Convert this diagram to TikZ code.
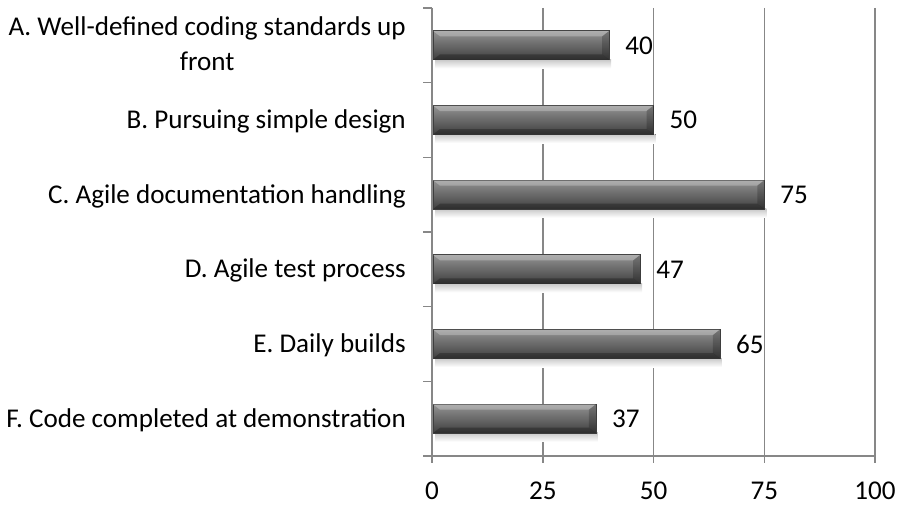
\documentclass[tikz,border=0pt]{standalone}
\usepackage{fontspec}
\setmainfont{Carlito}
\usepackage{xcolor}
\usetikzlibrary{positioning}
\definecolor{Gitterfarbe}{HTML}{878787}
\definecolor{Balkenhell}{HTML}{939393}
\definecolor{Balkenmitte}{HTML}{626262}
\definecolor{Balkendunkel}{HTML}{3E3E3E}
\tikzset{
  Gitter/.style={draw=Gitterfarbe, line width=1.5pt}, % Gitterlinien und Achsen
  Balken/.style={top color=Balkenhell, middle color=Balkenmitte, bottom color=Balkendunkel, draw=Balkendunkel, line width=.8pt},
  Schatten/.style={top color=black!22, bottom color=white, draw=none},
  Wert/.style={anchor=west, inner sep=0pt}, % Zahlen an den Balken
  Kat/.style={anchor=east, inner sep=0pt, align=center}, % Kategorien links
  Skala/.style={anchor=base, inner sep=0pt} % Zahlen unter der Achse
}

\begin{document}
\begin{tikzpicture}[x=1pt, y=-1pt,
font=\fontsize{27.1}{35}\selectfont
]
\useasboundingbox (0,0) rectangle (898,508);

%Achsen
\coordinate (O) at (432,456);
\coordinate (T) at (432,8);
\coordinate (R) at (875,456);

%Gitterlinien
\foreach \k in {1,...,4}
  \draw[Gitter] ([xshift=\k*110.75pt]T) -- ([xshift=\k*110.75pt]O);

%Balken
\foreach \i/\v/\d/\txt in {0/40/2/{A. Well-defined coding standards up\\front},
                       1/50/-1.5/{B. Pursuing simple design},
                       2/75/-1.5/{C. Agile documentation handling},
                       3/47/-1.5/{D. Agile test process},
                       4/65/-1.5/{E. Daily builds},
                       5/37/-1.5/{F. Code completed at demonstration}}{%
  \pgfmathsetmacro{\y}{8+74.67*(\i+0.5)}
  \pgfmathsetmacro{\e}{432+4.43*\v}
  \fill[Schatten] (435,\y+14) rectangle (\e+2,\y+23);
  \draw[Balken] (433,\y-14.5) rectangle (\e,\y+14.5);
  % Fasen an den Enden
  \fill[white, opacity=.25] (433,\y-14.5) -- (440,\y-9) -- (\e-7,\y-9) -- (\e,\y-14.5) -- cycle;
  \fill[black, opacity=.25] (433,\y+14.5) -- (440,\y+9) -- (\e-7,\y+9) -- (\e,\y+14.5) -- cycle;
  \fill[black, opacity=.2] (\e,\y-14.5) -- (\e-7,\y-9) -- (\e-7,\y+9) -- (\e,\y+14.5) -- cycle;
  \coordinate (B\i) at (\e,\y);
  \node[Wert] (V\i) at ([xshift=16pt]B\i) {\v};
  \node[Kat, yshift=\d pt] (K\i) at (406,\y) {\txt};
}

\draw[Gitter] (T) -- (O) -- (R);

%Teilstriche
\foreach \j in {0,...,6}
  \draw[Gitter] ([yshift=-\j*74.67pt]T) -- ++(-9,0);
\foreach \k in {0,...,4}{%
  \draw[Gitter] ([xshift=\k*110.75pt]O) -- ++(0,7);
  \pgfmathtruncatemacro{\s}{\k*25}
  \node[Skala] (S\k) at ([xshift=\k*110.75pt]O |- 0,499) {\s};
}
\end{tikzpicture}
\end{document}
